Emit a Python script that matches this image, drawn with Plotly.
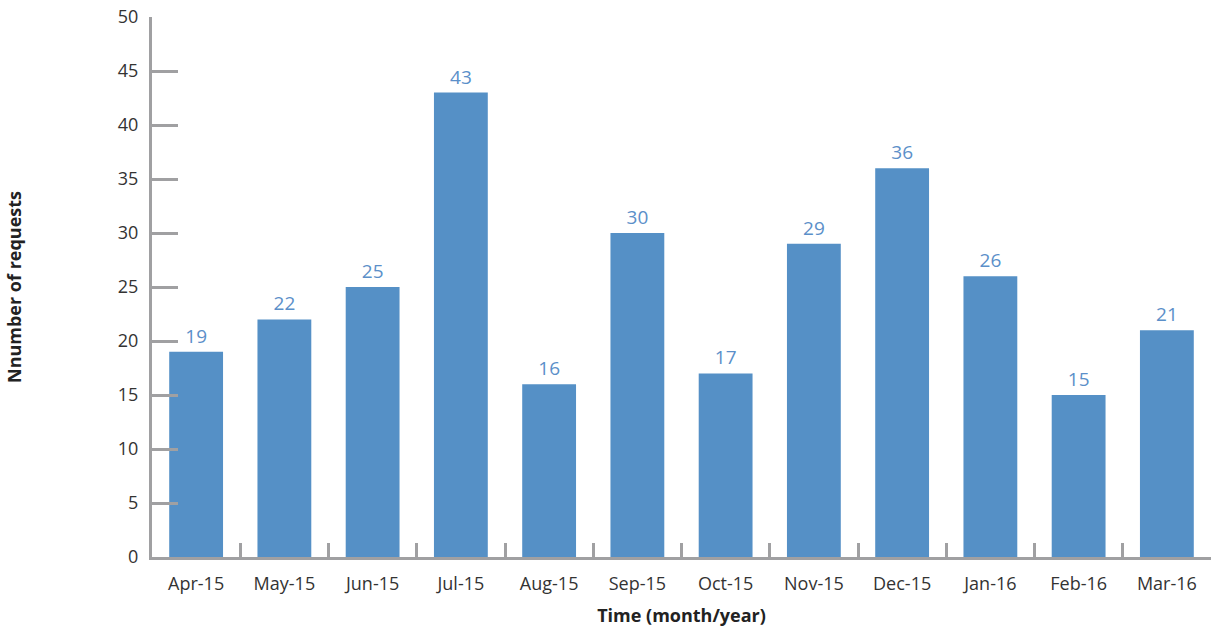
import plotly.graph_objects as go

months = ["Apr-15", "May-15", "Jun-15", "Jul-15", "Aug-15", "Sep-15",
          "Oct-15", "Nov-15", "Dec-15", "Jan-16", "Feb-16", "Mar-16"]
requests = [19, 22, 25, 43, 16, 30, 17, 29, 36, 26, 15, 21]
y_ticks = [0, 5, 10, 15, 20, 25, 30, 35, 40, 45, 50]

bar_color = "#5590c6"
label_color = "#5b8fc9"
axis_color = "#a0a0a2"
font = "Open Sans, Segoe UI, sans-serif"

fig = go.Figure(go.Bar(
    x=months, y=requests, marker=dict(color=bar_color, line=dict(width=0)),
    text=requests, textposition="outside", texttemplate="%{text}",
    textfont=dict(color=label_color, size=19, family=font),
    cliponaxis=False,
))

fig.update_layout(
    width=1212, height=631,
    margin=dict(l=152, r=1, t=17, b=74),
    plot_bgcolor="white", paper_bgcolor="white",
    bargap=0.39, showlegend=False,
    font=dict(family=font, color="#333333", size=18),
)
fig.update_xaxes(
    showgrid=False, showline=True, linecolor=axis_color, linewidth=3,
    ticks="inside", tickson="boundaries", ticklen=14, tickwidth=3, tickcolor=axis_color,
    tickfont=dict(size=18, color="#333333"),
    ticklabelstandoff=8,
    title=dict(text="<b>Time (month/year)</b>", font=dict(size=18, color="#222222"), standoff=16),
)
fig.update_yaxes(
    range=[0, 50], tickvals=y_ticks, showgrid=False, zeroline=False,
    showline=True, linecolor=axis_color, linewidth=3,
    ticks="inside", ticklen=26, tickwidth=3, tickcolor=axis_color,
    tickfont=dict(size=18, color="#333333"),
    ticklabelstandoff=7,
    title=dict(text="<b>Nnumber of requests</b>", font=dict(size=18, color="#222222"), standoff=92),
)
fig.write_html("out.html")
